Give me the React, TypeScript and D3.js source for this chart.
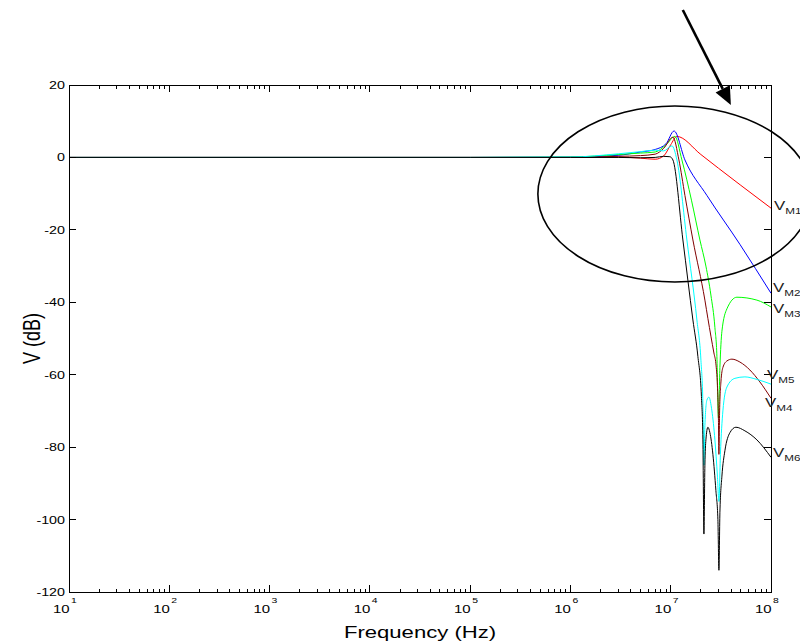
import React, { useRef, useEffect } from "react";
import * as d3 from "d3";

type Pt = [number, number];

// frequency (Hz), magnitude (dB)
const vm1: Pt[] = [
  [10, 0], [1e5, 0], [1e6, 0], [3e6, 0.1], [5e6, -0.2], [7e6, -0.5], [8.5e6, 0.4],
  [1e7, 3.5], [1.15e7, 5.8], [2e7, 0.8], [3e7, -3], [5e7, -7.7], [1e8, -14],
];
const vm2: Pt[] = [
  [10, 0], [1e5, 0], [1e6, 0.1], [3e6, 0.6], [5e6, 1.5], [7e6, 2.2], [9e6, 3.8],
  [1.08e7, 7.3], [1.386e7, -0.7], [2.296e7, -10.5], [4.897e7, -24], [1e8, -37.5],
];
const vm3: Pt[] = [
  [10, 0], [1e5, 0], [1e6, 0.1], [3e6, 0.8], [5e6, 1.2], [7e6, 1.5], [9e6, 3.5],
  [1.101e7, 5.8], [1.293e7, -0.7], [1.61e7, -11.8], [1.955e7, -22.8], [2.243e7, -30],
  [2.516e7, -38], [2.759e7, -47], [2.888e7, -55], [2.99e7, -72], [3.094e7, -58],
  [3.24e7, -48], [3.634e7, -41.8], [4.57e7, -38.6], [7.236e7, -39.4], [1e8, -41.3],
];
const vm4: Pt[] = [
  [10, 0], [1e5, 0], [1e6, 0], [3e6, 0.3], [5e6, 0.5], [7e6, 0.9], [8.5e6, 2.5],
  [1.052e7, 5.6], [1.207e7, -0.7], [1.386e7, -10.5], [1.665e7, -22.8], [2.192e7, -39.4],
  [2.349e7, -44.5], [2.696e7, -54], [2.822e7, -57], [2.922e7, -63], [2.99e7, -72],
  [3.024e7, -82], [3.073e7, -70], [3.167e7, -62], [3.314e7, -58], [3.634e7, -56.2],
  [4.076e7, -55.7], [4.897e7, -56.5], [6.16e7, -58.7], [7.75e7, -62], [1e8, -66.5],
];
const vm5: Pt[] = [
  [10, 0], [1e5, 0], [1e6, 0.1], [3e6, 1.0], [5e6, 1.6], [7e6, 2.0], [8.5e6, 1.8],
  [1.028e7, 3.2], [1.153e7, -0.7], [1.45e7, -22.8], [1.825e7, -44.9], [2.001e7, -56],
  [2.094e7, -68], [2.143e7, -85], [2.192e7, -74], [2.296e7, -67], [2.403e7, -66.2],
  [2.575e7, -70], [2.759e7, -78], [2.922e7, -88], [3.024e7, -95], [3.13e7, -82],
  [3.314e7, -70], [3.634e7, -63.4], [4.366e7, -61], [5.494e7, -60.6], [7.236e7, -61.3],
  [1e8, -62.6],
];
const vm6: Pt[] = [
  [10, 0], [1e5, 0], [1e6, 0], [3e6, 0], [5e6, -0.1], [7e6, 0], [8.5e6, 0.3],
  [9.8e6, 0.2], [1.052e7, -0.7], [1.323e7, -22.8], [1.665e7, -44.9], [1.867e7, -55],
  [2.024e7, -66], [2.094e7, -78], [2.143e7, -104], [2.192e7, -85], [2.243e7, -78],
  [2.349e7, -74.5], [2.459e7, -76], [2.634e7, -82], [2.822e7, -92], [2.955e7, -100],
  [3.024e7, -114], [3.094e7, -98], [3.24e7, -88], [3.47e7, -81], [3.893e7, -76],
  [4.468e7, -74.5], [5.494e7, -75.5], [7.236e7, -78], [1e8, -82.8],
];

const seriesNames = ["M1", "M2", "M3", "M4", "M5", "M6"];
const seriesData = [vm1, vm2, vm3, vm4, vm5, vm6];
const seriesColors = ["#ff0000", "#0000ff", "#00ff00", "#800000", "#00ffff", "#000000"];
const labelDb = [-14.5, -37.2, -43, -68.9, -61.2, -82.7];
const labelDx = [3, 2, 2, -6, -4, 2];

const yTicks = [-120, -100, -80, -60, -40, -20, 0, 20];
const decades = [1, 2, 3, 4, 5, 6, 7, 8];

// annotation: ellipse (center, half-size in decades / dB) and arrow
const ellipseCenter: Pt = [1.1e7, -10.1];
const ellipseHalf: Pt = [1.366, 24.3];
const arrowFrom: Pt = [1.32e7, 40.7];
const arrowTo: Pt = [3.98e7, 14.5];

const FONT = "'Liberation Sans', Arial, sans-serif";
const SX = 1.3; // the original figure is stretched horizontally

const App = () => {
  const svgRef = useRef<SVGSVGElement>(null);

  useEffect(() => {
    const width = 800;
    const height = 644;
    const margin = { top: 85, right: 29, bottom: 52, left: 69 };

    const svg = d3.select(svgRef.current).attr("width", width).attr("height", height);
    svg.selectAll("*").remove();

    const x = d3.scaleLog().domain([10, 1e8]).range([margin.left, width - margin.right]);
    const y = d3.scaleLinear().domain([-120, 20]).range([height - margin.bottom, margin.top]);
    const x0 = margin.left, x1 = width - margin.right;
    const y0 = height - margin.bottom, y1 = margin.top;

    const text = (str: string, tx: number, ty: number, size: number, anchor: string) =>
      svg
        .append("text")
        .attr("transform", `translate(${tx},${ty}) scale(${SX},1)`)
        .attr("text-anchor", anchor)
        .attr("font-family", FONT)
        .attr("font-size", size)
        .attr("fill", "#000")
        .text(str);

    svg.append("defs").append("clipPath").attr("id", "plot-clip")
      .append("rect").attr("x", x0).attr("y", y1).attr("width", x1 - x0).attr("height", y0 - y1);

    // curves
    const line = d3
      .line<Pt>()
      .x((d) => x(d[0]))
      .y((d) => y(d[1]))
      .curve(d3.curveMonotoneX);

    const curves = svg.append("g").attr("clip-path", "url(#plot-clip)");
    seriesData.forEach((data, i) => {
      curves
        .append("path")
        .attr("d", line(data))
        .attr("fill", "none")
        .attr("stroke", seriesColors[i])
        .attr("stroke-width", 1);
    });

    // frame and inward ticks
    const axes = svg.append("g").attr("stroke", "#000").attr("stroke-width", 1).attr("shape-rendering", "crispEdges");
    axes.append("rect").attr("x", x0).attr("y", y1).attr("width", x1 - x0).attr("height", y0 - y1).attr("fill", "none");

    const minor: number[] = [];
    decades.slice(0, -1).forEach((k) => {
      for (let m = 2; m <= 9; m++) minor.push(m * Math.pow(10, k));
    });
    minor.forEach((f) => {
      axes.append("line").attr("x1", x(f)).attr("x2", x(f)).attr("y1", y0).attr("y2", y0 - 3.5);
      axes.append("line").attr("x1", x(f)).attr("x2", x(f)).attr("y1", y1).attr("y2", y1 + 3.5);
    });
    decades.forEach((k) => {
      const px = x(Math.pow(10, k));
      axes.append("line").attr("x1", px).attr("x2", px).attr("y1", y0).attr("y2", y0 - 7);
      axes.append("line").attr("x1", px).attr("x2", px).attr("y1", y1).attr("y2", y1 + 7);
      text("10", px + 0.5, y0 + 21, 11.5, "end");
      text(String(k), px + 2, y0 + 11, 8, "start");
    });
    yTicks.forEach((v) => {
      const py = y(v);
      axes.append("line").attr("x1", x0).attr("x2", x0 + 7).attr("y1", py).attr("y2", py);
      axes.append("line").attr("x1", x1).attr("x2", x1 - 7).attr("y1", py).attr("y2", py);
      text(String(v), x0 - 4, py + 4, 11, "end");
    });

    // axis titles
    text("Frequency (Hz)", (x0 + x1) / 2, 638, 17, "middle");
    svg
      .append("text")
      .attr("transform", `translate(40,${(y0 + y1) / 2}) scale(${SX},1) rotate(-90)`)
      .attr("text-anchor", "middle")
      .attr("font-family", FONT)
      .attr("font-size", 18)
      .text("V (dB)");

    // series labels
    seriesNames.forEach((name, i) => {
      const t = svg
        .append("text")
        .attr("transform", `translate(${x1 + labelDx[i]},${y(labelDb[i])}) scale(${SX},1)`)
        .attr("font-family", FONT)
        .attr("font-size", 13)
        .attr("fill", "#222");
      t.append("tspan").text("V");
      t.append("tspan").attr("font-size", 9).attr("dy", 4).text(name);
    });

    // ellipse annotation
    const cx = x(ellipseCenter[0]);
    const cy = y(ellipseCenter[1]);
    const rx = x(ellipseCenter[0] * Math.pow(10, ellipseHalf[0])) - cx;
    const ry = y(ellipseCenter[1] - ellipseHalf[1]) - cy;
    svg
      .append("ellipse")
      .attr("cx", cx)
      .attr("cy", cy)
      .attr("rx", rx)
      .attr("ry", ry)
      .attr("fill", "none")
      .attr("stroke", "#000")
      .attr("stroke-width", 1.6);

    // arrow
    const ax0 = x(arrowFrom[0]), ay0 = y(arrowFrom[1]);
    const ax1 = x(arrowTo[0]), ay1 = y(arrowTo[1]);
    const ang = Math.atan2(ay1 - ay0, ax1 - ax0);
    const headLen = 18, headW = 8;
    const bx = ax1 - headLen * Math.cos(ang), by = ay1 - headLen * Math.sin(ang);
    svg
      .append("line")
      .attr("x1", ax0).attr("y1", ay0).attr("x2", bx).attr("y2", by)
      .attr("stroke", "#000").attr("stroke-width", 2.6);
    const nx = -Math.sin(ang), ny = Math.cos(ang);
    svg
      .append("polygon")
      .attr("points", [
        [ax1, ay1],
        [bx + nx * headW, by + ny * headW],
        [bx - nx * headW, by - ny * headW],
      ].map((p) => p.join(",")).join(" "))
      .attr("fill", "#000");
  }, []);

  return (
    <svg
      ref={svgRef}
      style={{ position: "absolute", left: 0, top: 0, background: "#fff" }}
    ></svg>
  );
};

export default App;
